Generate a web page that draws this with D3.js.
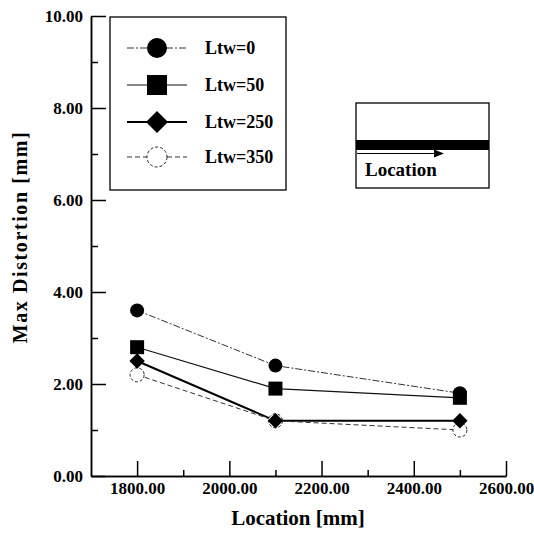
<!DOCTYPE html>
<html><head><meta charset="utf-8">
<script src="https://cdn.jsdelivr.net/npm/d3@7"></script>
<style>body{margin:0;background:#fff}</style>
</head><body>
<svg id="c" width="534" height="536"></svg>
<script>
const locations = [1800, 2100, 2500];
const seriesNames = ["Ltw=0", "Ltw=50", "Ltw=250", "Ltw=350"];
const ltw0 = [3.6, 2.4, 1.8];
const ltw50 = [2.8, 1.9, 1.7];
const ltw250 = [2.5, 1.2, 1.2];
const ltw350 = [2.2, 1.2, 1.0];
const yMajor = [0, 2, 4, 6, 8, 10];
const yMinor = [1, 3, 5, 7, 9];
const xMajor = [1800, 2000, 2200, 2400, 2600];
const xMinor = [1900, 2100, 2300, 2500];

const series = [
  {name: seriesNames[0], values: ltw0, marker: "circle", dash: "7,2,2,2", width: 1, color: "#333"},
  {name: seriesNames[1], values: ltw50, marker: "square", dash: null, width: 1.2, color: "#111"},
  {name: seriesNames[2], values: ltw250, marker: "diamond", dash: null, width: 2, color: "#000"},
  {name: seriesNames[3], values: ltw350, marker: "open", dash: "5,3", width: 1, color: "#333"}
];

const svg = d3.select("#c");
const font = "'Liberation Serif','Times New Roman',serif";
const x = d3.scaleLinear().domain([1700, 2600]).range([91, 506]);
const y = d3.scaleLinear().domain([0, 10]).range([476, 16]);

// axes
const gx = svg.append("g").attr("transform", "translate(0,476)");
gx.call(d3.axisBottom(x).tickValues(xMajor).tickSize(-15).tickSizeOuter(0).tickFormat(d3.format(".2f")).tickPadding(6));
gx.append("g").call(d3.axisBottom(x).tickValues(xMinor).tickSize(-6).tickSizeOuter(0).tickFormat(""));
const gy = svg.append("g").attr("transform", "translate(91,0)");
gy.call(d3.axisLeft(y).tickValues(yMajor).tickSize(-15).tickSizeOuter(0).tickFormat(d3.format(".2f")).tickPadding(8));
gy.append("g").call(d3.axisLeft(y).tickValues(yMinor).tickSize(-7).tickSizeOuter(0).tickFormat(""));
svg.selectAll(".domain").attr("stroke", "#000").attr("stroke-width", 1.5);
svg.selectAll(".tick line").attr("stroke", "#000").attr("stroke-width", 1.5);
svg.selectAll(".tick text").attr("font-family", font).attr("font-weight", "bold")
  .attr("font-size", 17).attr("fill", "#000");

// axis titles
svg.append("text").attr("x", 298).attr("y", 525).attr("text-anchor", "middle")
  .attr("font-family", font).attr("font-weight", "bold").attr("font-size", 21).text("Location [mm]");
svg.append("text").attr("transform", "translate(27,237) rotate(-90)").attr("text-anchor", "middle")
  .attr("font-family", font).attr("font-weight", "bold").attr("font-size", 20)
  .attr("letter-spacing", 1.6).text("Max Distortion [mm]");

function drawMarker(g, type, cx, cy, s) {
  if (type === "circle") {
    g.append("circle").attr("cx", cx).attr("cy", cy).attr("r", s).attr("fill", "#000");
  } else if (type === "square") {
    g.append("rect").attr("x", cx - s).attr("y", cy - s).attr("width", 2 * s).attr("height", 2 * s).attr("fill", "#000");
  } else if (type === "diamond") {
    const d = s * 1.1;
    g.append("path").attr("d", `M${cx},${cy - d}L${cx + d},${cy}L${cx},${cy + d}L${cx - d},${cy}Z`).attr("fill", "#000");
  } else {
    g.append("circle").attr("cx", cx).attr("cy", cy).attr("r", s).attr("fill", "#fff")
      .attr("stroke", "#222").attr("stroke-width", 1).attr("stroke-dasharray", "3,2");
  }
}

const line = d3.line().x((d, i) => x(locations[i])).y(d => y(d));
const plot = svg.append("g");
series.forEach(s => {
  plot.append("path").attr("d", line(s.values)).attr("fill", "none")
    .attr("stroke", s.color).attr("stroke-width", s.width)
    .attr("stroke-dasharray", s.dash);
});
[3, 2, 1, 0].forEach(k => {
  const s = series[k];
  s.values.forEach((v, i) => drawMarker(plot, s.marker, x(locations[i]), y(v), 7));
});

// legend
const lg = svg.append("g");
lg.append("rect").attr("x", 110).attr("y", 17).attr("width", 176).attr("height", 173)
  .attr("fill", "#fff").attr("stroke", "#000").attr("stroke-width", 1.3);
const rowsY = [48, 85, 122, 157];
series.forEach((s, k) => {
  const cy = rowsY[k];
  lg.append("line").attr("x1", 127).attr("x2", 187).attr("y1", cy).attr("y2", cy)
    .attr("stroke", s.color).attr("stroke-width", s.width).attr("stroke-dasharray", s.dash);
  drawMarker(lg, s.marker, 157, cy, 10);
  lg.append("text").attr("x", 205).attr("y", cy + 6).attr("font-family", font)
    .attr("font-weight", "bold").attr("font-size", 18).text(s.name);
});

// inset
const ins = svg.append("g");
ins.append("rect").attr("x", 356).attr("y", 103).attr("width", 133).attr("height", 85)
  .attr("fill", "#fff").attr("stroke", "#000").attr("stroke-width", 1.3);
ins.append("rect").attr("x", 356).attr("y", 140).attr("width", 133).attr("height", 10).attr("fill", "#000");
ins.append("line").attr("x1", 357).attr("x2", 436).attr("y1", 153.5).attr("y2", 153.5)
  .attr("stroke", "#000").attr("stroke-width", 1.2);
ins.append("path").attr("d", "M434,149.5L444,153.5L434,157.5Z").attr("fill", "#000");
ins.append("text").attr("x", 365).attr("y", 176).attr("font-family", font)
  .attr("font-weight", "bold").attr("font-size", 19).text("Location");
</script>
</body></html>
